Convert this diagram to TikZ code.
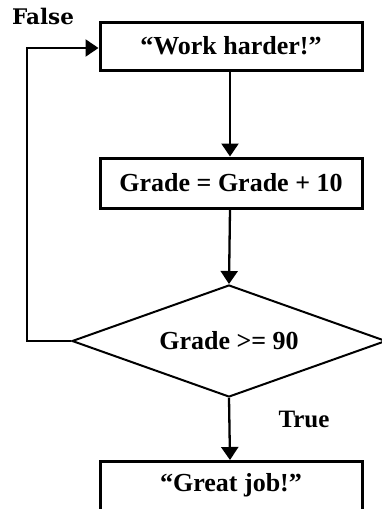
\documentclass[tikz,border=0pt]{standalone}
\usepackage{fontspec}
\setmainfont{Liberation Serif}
\newfontfamily\labfont{DejaVu Serif}
\usetikzlibrary{shapes.geometric,arrows.meta}
\begin{document}
\begin{tikzpicture}[x=1pt,y=-1pt,
  procbox/.style={draw,line width=3pt,minimum width=262pt,inner sep=0pt,
    font=\fontsize{26}{30}\selectfont\bfseries},
  decbox/.style={draw,diamond,aspect=2.8,line width=2pt,minimum width=314pt,minimum height=112pt,
    inner sep=0pt,font=\fontsize{26}{30}\selectfont\bfseries},
  conn/.style={line width=2.3pt,-{Triangle[width=17pt,length=13pt]}},
  lab/.style={font=\labfont\fontsize{21.5}{25}\selectfont\bfseries}]
\useasboundingbox (0,0) rectangle (382,509);
\clip (0,0) rectangle (382,509);
\fill[white] (0,0) rectangle (382,509);
\node[procbox,minimum height=48pt] (work) at (231,46) {“Work harder!”};
\node[procbox,minimum height=50pt] (grade) at (231,183) {Grade = Grade + 10};
\node[decbox] (test) at (229,341) {Grade >= 90};
\node[procbox,minimum height=60pt,anchor=north] (great) at (231,460) {\raisebox{19pt}{“Great job!”}};
\node[lab] (false) at (43,16) {False};
\node[font=\fontsize{25}{29}\selectfont\bfseries] (true) at (304,419) {True};
\coordinate (c1) at (27,341);
\coordinate (c2) at (27,48);
\draw[conn] (work.south -| 230,0) -- (grade.north -| 230,0);
\draw[conn] (grade.south -| 230,0) -- (test.north);
\draw[conn] (test.south) -- (great.north -| 230,0);
\draw[conn] (test.west) -- (c1) -- (c2) -- (work.west |- c2);
\end{tikzpicture}
\end{document}
